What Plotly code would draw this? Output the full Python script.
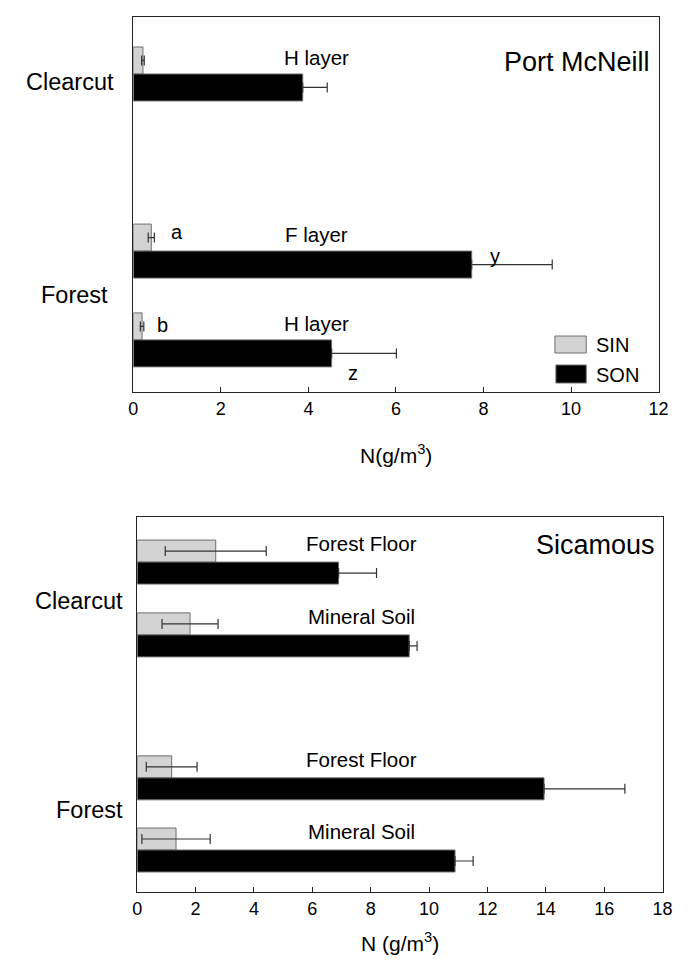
import plotly.graph_objects as go

# ---------------- data ----------------
# Port McNeill (top panel)
pm_layer_labels = ["H layer", "F layer", "H layer"]
pm_sin = [0.22, 0.41, 0.20]
pm_sin_err = [0.03, 0.07, 0.04]
pm_son = [3.87, 7.73, 4.53]
pm_son_err = [0.56, 1.84, 1.48]
pm_letters_sin = ["", "a", "b"]
pm_letters_son = ["", "y", "z"]

# Sicamous (bottom panel)
sc_layer_labels = ["Forest Floor", "Mineral Soil", "Forest Floor", "Mineral Soil"]
sc_sin = [2.69, 1.81, 1.18, 1.33]
sc_sin_err = [1.73, 0.96, 0.87, 1.17]
sc_son = [6.90, 9.32, 13.94, 10.89]
sc_son_err = [1.30, 0.27, 2.77, 0.62]

x_ticks_top = [0, 2, 4, 6, 8, 10, 12]
x_ticks_bot = [0, 2, 4, 6, 8, 10, 12, 14, 16, 18]

# ---------------- layout constants ----------------
pm_pos = [2.11, 8.67, 11.96]
pm_yrange = [13.89, 0]
sc_pos = [2.05, 5.36, 11.86, 15.14]
sc_yrange = [17.05, 0]

W, H = 688, 962
FONT = "Liberation Sans, Arial, sans-serif"
SIN_COLOR = "#d3d3d3"
SON_COLOR = "#000000"
EDGE = "#6e6e6e"
ERR = "#333333"

fig = go.Figure()

def add_panel(pos, sin, sin_err, son, son_err, xa, ya):
    fig.add_trace(go.Bar(
        orientation="h", y=[p - 0.5 for p in pos], x=sin, width=1.0,
        marker=dict(color=SIN_COLOR, line=dict(color=EDGE, width=1)),
        error_x=dict(type="data", array=sin_err, color=ERR, thickness=1.2, width=5),
        name="SIN", xaxis=xa, yaxis=ya, showlegend=False))
    fig.add_trace(go.Bar(
        orientation="h", y=[p + 0.5 for p in pos], x=son, width=1.0,
        marker=dict(color=SON_COLOR, line=dict(color=EDGE, width=1)),
        error_x=dict(type="data", array=son_err, arrayminus=[0] * len(son_err),
                     symmetric=False, color=ERR, thickness=1.2, width=5),
        name="SON", xaxis=xa, yaxis=ya, showlegend=False))

add_panel(pm_pos, pm_sin, pm_sin_err, pm_son, pm_son_err, "x", "y")
add_panel(sc_pos, sc_sin, sc_sin_err, sc_son, sc_son_err, "x2", "y2")

axis_common = dict(showline=True, linecolor="#222222", linewidth=1.3, mirror=True,
                   showgrid=False, zeroline=False)

fig.update_layout(
    width=W, height=H, margin=dict(l=0, r=0, t=0, b=0),
    paper_bgcolor="white", plot_bgcolor="white",
    font=dict(family=FONT, color="black", size=18),
    barmode="overlay", showlegend=False,
    xaxis=dict(domain=[123/W, 660/W], range=[0, 12], tickvals=x_ticks_top,
               ticks="inside", ticklen=5, tickcolor="#222222", anchor="y",
               tickfont=dict(size=18), **axis_common),
    yaxis=dict(domain=[1-384/H, 1-9/H], range=pm_yrange, showticklabels=False,
               ticks="", anchor="x", **axis_common),
    xaxis2=dict(domain=[127/W, 664/W], range=[0, 18], tickvals=x_ticks_bot,
                ticks="inside", ticklen=5, tickcolor="#222222", anchor="y2",
                tickfont=dict(size=18), **axis_common),
    yaxis2=dict(domain=[1-884/H, 1-509/H], range=sc_yrange, showticklabels=False,
                ticks="", anchor="x2", **axis_common),
)

ann = []
# axis titles
ann.append(dict(text="N(g/m<sup>3</sup>)", xref="paper", yref="paper",
                x=392/W, y=1-446/H, showarrow=False, font=dict(size=21)))
ann.append(dict(text="N (g/m<sup>3</sup>)", xref="paper", yref="paper",
                x=396/W, y=1-949/H, showarrow=False, font=dict(size=21)))
# station names
ann.append(dict(text="Port McNeill", xref="paper", yref="paper", x=653/W, y=1-37.5/H,
                xanchor="right", showarrow=False, font=dict(size=27)))
ann.append(dict(text="Sicamous", xref="paper", yref="paper", x=658/W, y=1-537/H,
                xanchor="right", showarrow=False, font=dict(size=27)))
# category labels
ann.append(dict(text="Clearcut", xref="paper", yref="y", x=105/W, y=2.41,
                xanchor="right", showarrow=False, font=dict(size=23.5)))
ann.append(dict(text="Forest", xref="paper", yref="y", x=99/W, y=10.3,
                xanchor="right", showarrow=False, font=dict(size=23.5)))
ann.append(dict(text="Clearcut", xref="paper", yref="y2", x=114/W, y=3.82,
                xanchor="right", showarrow=False, font=dict(size=23.5)))
ann.append(dict(text="Forest", xref="paper", yref="y2", x=114/W, y=13.32,
                xanchor="right", showarrow=False, font=dict(size=23.5)))
# layer labels
for p, lab in zip(pm_pos, pm_layer_labels):
    ann.append(dict(text=lab, xref="x", yref="y", x=4.18, y=p - 0.62,
                    showarrow=False, font=dict(size=20.5)))
for p, lab in zip(sc_pos, sc_layer_labels):
    ann.append(dict(text=lab, xref="x2", yref="y2", x=7.7, y=p - 0.85,
                    showarrow=False, font=dict(size=20.5)))
# significance letters
ann.append(dict(text=pm_letters_sin[1], xref="x", yref="y", x=1.0, y=7.96, showarrow=False, font=dict(size=20)))
ann.append(dict(text=pm_letters_sin[2], xref="x", yref="y", x=0.67, y=11.41, showarrow=False, font=dict(size=20)))
ann.append(dict(text=pm_letters_son[1], xref="x", yref="y", x=8.27, y=8.85, showarrow=False, font=dict(size=20)))
ann.append(dict(text=pm_letters_son[2], xref="x", yref="y", x=5.03, y=13.19, showarrow=False, font=dict(size=20)))
# legend text
ann.append(dict(text="SIN", xref="paper", yref="paper", x=594/W, y=1-337/H,
                xanchor="left", showarrow=False, font=dict(size=20)))
ann.append(dict(text="SON", xref="paper", yref="paper", x=594/W, y=1-367/H,
                xanchor="left", showarrow=False, font=dict(size=20)))
fig.update_layout(annotations=ann)

# legend swatches
fig.add_shape(type="rect", xref="paper", yref="paper", x0=554/W, x1=586/W,
              y0=1-345/H, y1=1-328/H, fillcolor=SIN_COLOR, line=dict(color=EDGE, width=1))
fig.add_shape(type="rect", xref="paper", yref="paper", x0=555/W, x1=586/W,
              y0=1-375/H, y1=1-357/H, fillcolor=SON_COLOR, line=dict(color=EDGE, width=1))

fig.write_html("out.html")
